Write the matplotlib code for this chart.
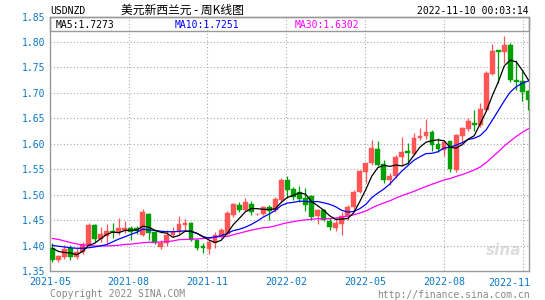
import matplotlib
matplotlib.use('Agg')
import matplotlib.pyplot as plt
import numpy as np
from matplotlib.patches import Rectangle

# ---------------- data ----------------
opens = [1.396, 1.372, 1.378, 1.395, 1.378, 1.387, 1.401, 1.441, 1.413, 1.419,
         1.428, 1.427, 1.431, 1.435, 1.434, 1.420, 1.462, 1.426, 1.397, 1.405,
         1.420, 1.426, 1.441, 1.444, 1.410, 1.400, 1.393, 1.405, 1.418, 1.422,
         1.460, 1.479, 1.469, 1.481, 1.4617, 1.462, 1.4755, 1.469, 1.490, 1.528,
         1.5115, 1.506, 1.493, 1.498, 1.458, 1.470, 1.449, 1.434, 1.442, 1.458,
         1.475, 1.506, 1.5455, 1.562, 1.590, 1.560, 1.529, 1.536, 1.575, 1.585,
         1.580, 1.611, 1.6144, 1.624, 1.5994, 1.588, 1.6046, 1.548, 1.6144, 1.629,
         1.6408, 1.636, 1.666, 1.738, 1.7837, 1.7805, 1.795, 1.726, 1.724, 1.703]
highs = [1.406, 1.382, 1.401, 1.401, 1.395, 1.407, 1.445, 1.443, 1.437, 1.443,
         1.445, 1.454, 1.448, 1.439, 1.439, 1.471, 1.464, 1.429, 1.411, 1.431,
         1.437, 1.459, 1.452, 1.447, 1.412, 1.405, 1.411, 1.427, 1.434, 1.467,
         1.483, 1.485, 1.493, 1.487, 1.4635, 1.477, 1.480, 1.495, 1.532, 1.536,
         1.516, 1.517, 1.513, 1.500, 1.471, 1.471, 1.454, 1.454, 1.466, 1.480,
         1.5095, 1.549, 1.563, 1.607, 1.6046, 1.5685, 1.5424, 1.578, 1.613, 1.601,
         1.622, 1.631, 1.649, 1.627, 1.611, 1.606, 1.606, 1.6197, 1.634, 1.6506,
         1.667, 1.681, 1.7424, 1.796, 1.7851, 1.8126, 1.798, 1.7654, 1.7424, 1.7063]
lows = [1.368, 1.367, 1.374, 1.371, 1.374, 1.384, 1.397, 1.407, 1.407, 1.405,
        1.415, 1.421, 1.425, 1.410, 1.422, 1.418, 1.410, 1.403, 1.393, 1.400,
        1.417, 1.422, 1.431, 1.408, 1.392, 1.385, 1.384, 1.395, 1.414, 1.420,
        1.457, 1.465, 1.467, 1.460, 1.4605, 1.461, 1.450, 1.466, 1.486, 1.493,
        1.490, 1.4865, 1.467, 1.450, 1.443, 1.4485, 1.431, 1.429, 1.421, 1.450,
        1.470, 1.503, 1.523, 1.558, 1.5554, 1.5227, 1.519, 1.5325, 1.556, 1.562,
        1.578, 1.608, 1.610, 1.585, 1.583, 1.576, 1.5443, 1.545, 1.600, 1.6243,
        1.6243, 1.633, 1.6636, 1.736, 1.7195, 1.7589, 1.722, 1.7063, 1.6833, 1.6656]
closes = [1.372, 1.380, 1.393, 1.378, 1.387, 1.403, 1.441, 1.413, 1.423, 1.429,
          1.426, 1.435, 1.435, 1.426, 1.429, 1.466, 1.424, 1.405, 1.406, 1.420,
          1.426, 1.442, 1.445, 1.410, 1.396, 1.396, 1.407, 1.421, 1.431, 1.464,
          1.481, 1.469, 1.485, 1.465, 1.4625, 1.475, 1.467, 1.492, 1.529, 1.510,
          1.495, 1.492, 1.480, 1.456, 1.470, 1.4504, 1.437, 1.444, 1.459, 1.475,
          1.506, 1.547, 1.562, 1.5916, 1.5587, 1.529, 1.537, 1.575, 1.583, 1.5817,
          1.611, 1.616, 1.624, 1.598, 1.5896, 1.6026, 1.551, 1.617, 1.631, 1.644,
          1.636, 1.668, 1.740, 1.783, 1.7805, 1.795, 1.7246, 1.7207, 1.701, 1.6853]

# moving-average values before a full window is available
ma5_head = [1.3947, 1.3884, 1.3864, 1.3855]
ma10_head = [1.4003, 1.3987, 1.3973, 1.3957, 1.3947, 1.3947, 1.3957, 1.3973, 1.3993]
ma30_head = [1.414, 1.412, 1.409, 1.406, 1.4032, 1.4012, 1.4003, 1.3993, 1.3993, 1.3993,
             1.3998, 1.4006, 1.4022, 1.4028, 1.4042, 1.4055, 1.4065, 1.4065, 1.4071, 1.4077,
             1.4091, 1.4115, 1.412, 1.4124, 1.413, 1.4138, 1.4144, 1.416, 1.418]

tick_labels = ['2021-05', '2021-08', '2021-11', '2022-02', '2022-05', '2022-08', '2022-11']
y_ticks = [1.35, 1.40, 1.45, 1.50, 1.55, 1.60, 1.65, 1.70, 1.75, 1.80, 1.85]
ma_labels = ['MA5:1.7273', 'MA10:1.7251', 'MA30:1.6302']
symbol = 'USDNZD'
title = '美元新西兰元 - 周K线图'
stamp = '2022-11-10 00:03:14'


def rolling(vals, n, head):
    out = list(head)
    for i in range(len(head), len(vals)):
        out.append(float(np.mean(vals[i - n + 1:i + 1])))
    return out


ma5 = rolling(closes, 5, ma5_head)
ma10 = rolling(closes, 10, ma10_head)
ma30 = rolling(closes, 30, ma30_head)

# ---------------- figure ----------------
W, H = 545, 300
fig = plt.figure(figsize=(W / 100, H / 100), dpi=100)
fig.patch.set_facecolor('white')
ax = fig.add_axes([50 / W, 1 - 271 / H, (529 - 50) / W, (271 - 16.6) / H])

mono = 'DejaVu Sans Mono'
blue_lbl = '#0a78c8'
up_col = '#ff5555'
dn_col = '#00a000'
grid_col = '#aaaaaa'

x = np.arange(len(closes))
o = np.array(opens); c = np.array(closes); h = np.array(highs); l = np.array(lows)
up = c >= o
cols = np.where(up, up_col, dn_col)
bottoms = np.minimum(o, c)
heights = np.maximum(np.abs(c - o), 0.0012)

ax.vlines(x, l, h, colors=cols, linewidth=0.9, zorder=3)
ax.bar(x, heights, bottom=bottoms, width=0.8, color=cols, edgecolor=cols,
       linewidth=0.3, zorder=4)

ax.plot(x, ma30, color='#ff00ff', lw=0.9, zorder=5)
ax.plot(x, ma10, color='#0000ff', lw=0.9, zorder=6)
ax.plot(x, ma5, color='black', lw=0.9, zorder=7)

ax.set_xlim(-0.4, 79.1)
ax.set_ylim(1.35, 1.85)

tick_pos = [-0.38, 12.64, 25.7, 38.8, 51.9, 65.0, 78.1]
for tp in tick_pos[1:]:
    ax.axvline(tp, color=grid_col, lw=0.8, ls=(0, (1, 2)), zorder=1)
for yv in y_ticks[1:-1]:
    ax.axhline(yv, color=grid_col, lw=0.8, ls=(0, (1, 2)), zorder=1)

ax.set_yticks(y_ticks)
ax.set_yticklabels(['%.2f' % v for v in y_ticks], color=blue_lbl,
                   fontfamily=mono, fontsize=7)
ax.tick_params(axis='y', length=0, pad=3)
ax.set_xticks(tick_pos[:-1])
ax.set_xticklabels(tick_labels[:-1], color=blue_lbl, fontfamily=mono, fontsize=7.2)
ax.tick_params(axis='x', length=0, pad=4)
fig.text(530 / W, 1 - 282.5 / H, tick_labels[-1], ha='right', va='center',
         color=blue_lbl, fontfamily=mono, fontsize=7.2)

for s in ax.spines.values():
    s.set_color('#999999')
    s.set_linewidth(1.0)

# MA legend box
box_h = (30.5 - 16.6) / (271 - 16.6)
ax.add_patch(Rectangle((0, 1 - box_h), 1, box_h, transform=ax.transAxes,
                       facecolor='none', edgecolor='#999999', lw=1.0, zorder=8,
                       clip_on=False))
ma_cols = ['black', '#0000ff', '#ff00ff']
ma_x = [55.6, 175, 295]
for lab, colr, xx in zip(ma_labels, ma_cols, ma_x):
    fig.text(xx / W, 1 - 25 / H, lab, color=colr, fontfamily=mono, fontsize=7,
             ha='left', va='center')

# header
fig.text(50 / W, 1 - 11 / H, symbol, fontfamily=mono, fontsize=7, ha='left',
         va='center', color='black')
fig.text(121 / W, 1 - 10.5 / H, title, fontfamily=['Noto Sans CJK SC', 'DejaVu Sans'],
         fontsize=8.5, ha='left', va='center', color='black')
fig.text(529 / W, 1 - 11 / H, stamp, fontfamily=mono, fontsize=7, ha='right',
         va='center', color='black')

# footer
fig.text(50 / W, 1 - 294 / H, 'Copyright 2022 SINA.COM', fontfamily=mono,
         fontsize=7, ha='left', va='center', color='#888888')
fig.text(530 / W, 1 - 294.5 / H, 'http://finance.sina.com.cn', fontfamily=mono,
         fontsize=7, ha='right', va='center', color='#888888')

# watermark
ax.text(0.985, 0.05, 'sina', transform=ax.transAxes, ha='right', va='bottom',
        fontsize=11, style='italic', fontweight='bold', color='#dddddd', zorder=0)

fig.savefig('out.png', dpi=100, facecolor='white')
